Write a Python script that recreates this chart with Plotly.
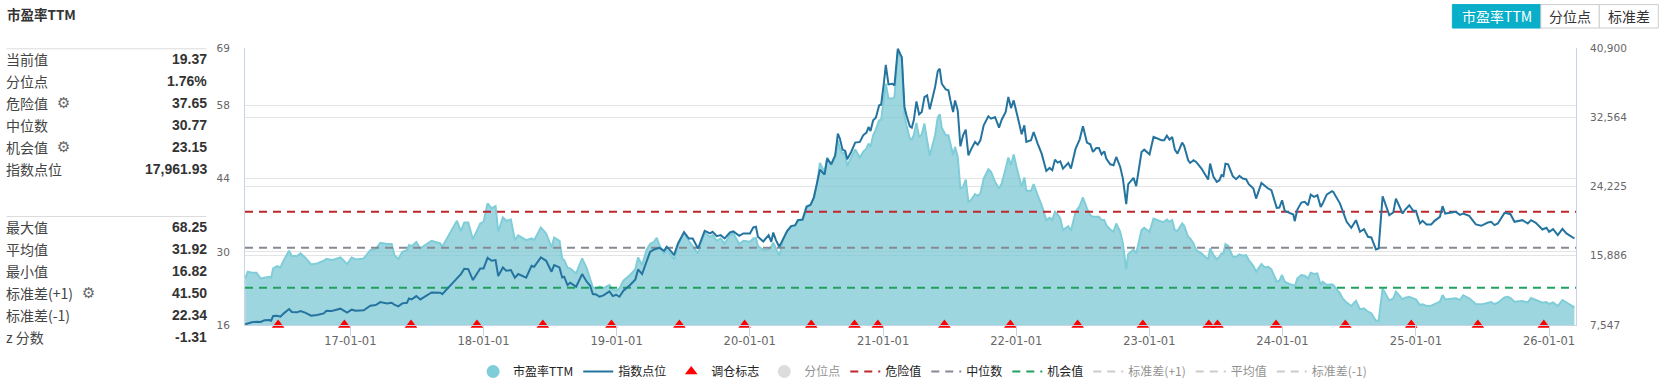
import pandas as pd
import plotly.graph_objects as go

# ---------- data ----------
years = [
2016.21,2016.23,2016.26,2016.295,2016.325,2016.355,2016.39,2016.405,2016.42,2016.45,2016.475,2016.50,2016.54,2016.56,2016.60,2016.625,2016.66,2016.705,2016.75,2016.80,2016.82,2016.86,2016.925,2016.975,
2017.01,2017.04,2017.10,2017.15,2017.19,2017.225,2017.275,2017.31,2017.33,2017.36,2017.39,2017.425,2017.44,2017.46,2017.495,2017.525,2017.56,2017.61,2017.675,2017.69,2017.80,2017.83,2017.855,2017.885,2017.92,2017.975,
2018.00,2018.03,2018.06,2018.09,2018.11,2018.145,2018.17,2018.205,2018.235,2018.26,2018.32,2018.36,2018.38,2018.43,2018.47,2018.51,2018.53,2018.57,2018.59,2018.605,2018.63,2018.65,2018.695,2018.74,2018.775,2018.80,2018.82,2018.845,2018.87,2018.90,2018.945,2018.97,2018.995,
2019.02,2019.05,2019.10,2019.14,2019.16,2019.19,2019.225,2019.25,2019.28,2019.30,2019.32,2019.355,2019.375,2019.40,2019.43,2019.46,2019.505,2019.54,2019.57,2019.61,2019.66,2019.70,2019.72,2019.75,2019.78,2019.81,2019.85,2019.875,2019.92,2019.95,
2020.00,2020.025,2020.045,2020.06,2020.10,2020.14,2020.16,2020.175,2020.195,2020.22,2020.25,2020.28,2020.31,2020.34,2020.36,2020.395,2020.425,2020.455,2020.48,2020.505,2020.525,2020.56,2020.58,2020.61,2020.64,2020.66,2020.675,2020.695,2020.715,2020.73,2020.76,2020.79,2020.825,2020.85,2020.875,2020.89,2020.905,2020.925,2020.945,2020.97,2020.985,
2021.005,2021.02,2021.04,2021.07,2021.085,2021.11,2021.14,2021.16,2021.175,2021.20,2021.215,2021.23,2021.25,2021.27,2021.29,2021.31,2021.33,2021.35,2021.39,2021.41,2021.425,2021.44,2021.47,2021.49,2021.505,2021.525,2021.54,2021.56,2021.58,2021.60,2021.62,2021.64,2021.66,2021.69,2021.71,2021.73,2021.755,2021.79,2021.81,2021.84,2021.87,2021.89,2021.92,2021.94,2021.96,2021.98,
2022.01,2022.04,2022.06,2022.075,2022.11,2022.13,2022.16,2022.19,2022.225,2022.25,2022.27,2022.29,2022.31,2022.33,2022.35,2022.39,2022.41,2022.445,2022.475,2022.50,2022.53,2022.555,2022.575,2022.60,2022.62,2022.64,2022.66,2022.675,2022.705,2022.73,2022.75,2022.78,2022.80,2022.825,2022.84,2022.88,2022.90,2022.94,2022.96,
2023.00,2023.03,2023.09,2023.11,2023.13,2023.15,2023.17,2023.19,2023.21,2023.245,2023.26,2023.29,2023.305,2023.33,2023.35,2023.39,2023.44,2023.455,2023.48,2023.505,2023.525,2023.54,2023.555,2023.57,2023.59,2023.625,2023.65,2023.675,2023.70,2023.725,2023.745,2023.78,2023.80,2023.84,2023.865,2023.89,2023.915,2023.955,2023.975,2023.995,
2024.015,2024.05,2024.08,2024.09,2024.11,2024.14,2024.165,2024.19,2024.21,2024.235,2024.26,2024.285,2024.30,2024.33,2024.37,2024.38,2024.43,2024.45,2024.48,2024.515,2024.55,2024.58,2024.61,2024.64,2024.665,2024.70,2024.72,2024.75,2024.80,2024.83,2024.85,2024.90,2024.92,2024.95,2024.98,
2025.00,2025.03,2025.05,2025.08,2025.115,2025.14,2025.18,2025.20,2025.22,2025.265,2025.30,2025.33,2025.355,2025.40,2025.45,2025.49,2025.54,2025.565,2025.59,2025.615,2025.665,2025.69,2025.71,2025.74,2025.80,2025.84,2025.865,2025.90,2025.95,2025.98,
2026.00,2026.03,2026.065,2026.10,2026.13,2026.19]

pe_ttm = [
24.92,26.19,26.0,26.0,24.92,25.11,25.24,25.05,26.83,27.27,27.02,28.42,30.2,29.19,29.19,29.7,28.93,27.59,27.78,28.29,28.68,28.42,28.93,27.66,
28.93,28.55,28.74,30.33,30.52,31.73,31.48,31.48,29.38,28.61,30.01,30.33,31.29,31.1,31.86,30.65,31.29,32.12,31.61,30.97,35.94,33.96,35.62,35.62,32.37,35.43,
35.75,39.25,38.3,38.74,33.84,36.58,35.94,36.19,32.24,33.14,32.24,32.56,32.24,34.66,33.52,30.84,32.75,32.12,28.74,28.42,26.96,26.83,25.87,28.74,26.83,24.92,23.2,23.01,23.33,23.07,23.64,22.82,22.56,
23.01,24.47,25.56,26.7,28.93,27.47,30.46,31.48,31.93,32.69,31.29,29.7,30.33,29.7,28.55,31.29,33.64,32.12,31.1,29.7,33.64,32.88,33.2,32.12,32.56,31.61,33.2,33.52,31.48,32.12,
31.93,32.56,32.63,31.1,30.33,30.46,30.97,31.73,30.65,29.19,32.37,33.96,34.92,34.92,36.07,36.07,38.74,39.0,40.52,43.07,47.02,45.3,48.04,46.58,48.17,51.35,49.76,48.81,49.12,46.45,48.04,49.57,48.04,49.12,49.76,50.72,50.08,52.31,53.39,55.18,55.3,
59.0,62.18,59.32,59.32,59.63,68.25,66.96,56.13,54.22,51.67,51.48,52.31,54.67,51.99,52.44,54.54,51.35,48.36,52.31,55.69,56.32,53.77,52.31,52.31,50.72,48.49,50.08,48.17,42.12,42.44,43.84,39.57,39.89,41.03,40.72,41.16,44.03,45.81,45.3,43.39,42.12,43.07,45.94,48.04,46.58,48.61,
45.3,42.44,44.22,41.67,41.67,42.95,40.84,38.93,36.07,36.51,36.07,37.66,37.15,36.38,34.15,34.92,34.03,37.66,38.74,40.4,38.3,37.02,36.7,36.7,36.7,36.07,36.07,35.11,34.28,33.84,35.43,33.84,31.61,26.64,29.57,30.46,29.7,34.15,34.6,
33.84,36.38,35.75,35.75,36.19,35.75,36.07,34.15,34.03,35.43,34.98,32.88,32.56,31.61,30.33,29.7,28.55,30.65,29.38,28.55,29.06,29.7,29.7,31.48,31.16,29.06,29.06,29.5,29.25,29.38,28.42,27.27,26.19,27.66,27.02,27.15,26.64,24.28,24.47,25.56,
24.28,23.84,23.64,23.33,24.92,25.56,25.43,24.92,26.0,25.75,25.87,23.64,24.28,23.64,23.77,23.64,22.05,21.1,20.27,19.63,20.65,18.99,19.19,18.55,18.23,16.82,16.82,23.01,20.65,21.1,22.37,20.9,21.22,21.41,21.1,
20.9,19.82,19.95,19.63,19.69,20.01,20.46,21.73,20.9,21.03,21.1,20.78,21.67,21.1,20.01,19.95,20.27,20.4,20.01,20.27,21.29,21.41,21.16,20.46,20.59,20.33,21.16,20.78,20.27,20.4,
20.01,20.33,19.63,20.78,20.27,19.37]

index_level = [
7630,7750,7870,7950,7910,8110,8150,8070,8630,8670,8550,8950,9470,9110,9070,9230,9030,8670,8750,8950,9270,9230,9510,9030,
9390,9270,9310,9870,9950,10310,10150,10230,9990,9790,10150,10230,10750,10630,11030,10630,10950,11470,11430,11270,13160,13680,14320,14280,12960,14360,
14360,15640,15280,15360,13440,14480,14080,14160,13240,13680,13240,14680,14560,15680,15280,13960,14760,14480,13280,13360,12360,12640,12160,13680,12760,12280,11270,11230,10950,11110,11590,11030,11190,
10950,11670,12360,13040,14240,13680,15360,16360,16640,16720,16840,16480,16960,16560,15960,17360,18730,17970,17970,16760,18890,18570,18770,18250,18370,17970,18690,18810,18290,18570,
18570,19290,19370,18170,17600,18370,17560,18690,17760,16960,17970,18890,19450,19570,20170,20250,21770,22010,22890,24580,26260,25660,27580,26900,27980,30590,29990,28660,28500,27500,28380,29510,29590,30390,30710,31390,30910,32190,32510,33990,34070,
36600,38880,36520,36600,36400,40805,39800,33790,32790,31470,31310,32190,34470,32910,33190,34995,35195,33510,36200,38120,38400,36600,35920,35800,34590,33190,34590,33390,29060,30390,31070,27980,28700,29590,29260,29790,31590,32670,32390,32590,31310,32270,33190,34995,33670,34590,
32590,30510,31590,29590,29790,30790,29390,28180,26100,26460,26180,27460,27100,27260,26380,27060,26380,28780,29870,31470,29510,29310,28380,28860,28860,28100,28460,27580,26900,26780,27780,26580,25180,22090,24500,25260,24260,28380,28660,
28100,30190,29790,29790,30350,29870,30190,28660,28180,29510,29110,27380,27060,27380,27180,26380,25060,26980,25380,24780,24980,25580,25460,26980,26900,25460,25100,25500,25180,25100,24500,23980,22770,24660,24260,23980,23780,21650,21690,22570,
21290,21050,20850,20050,21450,22290,22370,21970,23250,22970,23170,21770,22170,23250,23650,23570,22170,21290,19970,19250,20170,18770,19090,18170,18090,16640,16760,23050,20770,21090,22770,20970,21450,21970,21290,
21290,19770,20090,19650,19650,20090,20570,21850,20970,21090,21170,20810,20970,20690,19650,19490,19890,19970,19570,19770,21050,20970,20890,19970,20170,19770,20170,19850,19050,19250,
18770,19090,18370,19130,18570,17962]

rebalance_years = [2016.4575,2016.955,2017.455,2017.95,2018.445,2018.96,2019.47,2019.96,2020.46,2020.785,2020.96,
                   2021.46,2021.955,2022.46,2022.95,2023.445,2023.51,2023.95,2024.47,2024.965,2025.465,2025.96]

danger_value = 37.65
median_value = 30.77
chance_value = 23.15
std_plus = 41.50
mean_value = 31.92
std_minus = 22.34

left_ticks = [16, 30, 44, 58, 69]
right_ticks = [7547, 15886, 24225, 32564, 40900]
right_labels = ["7,547", "15,886", "24,225", "32,564", "40,900"]
x_ticks = ["2017-01-01","2018-01-01","2019-01-01","2020-01-01","2021-01-01","2022-01-01","2023-01-01","2024-01-01","2025-01-01","2026-01-01"]

table_top = [("当前值","19.37"),("分位点","1.76%"),("危险值","37.65"),("中位数","30.77"),("机会值","23.15"),("指数点位","17,961.93")]
table_bottom = [("最大值","68.25"),("平均值","31.92"),("最小值","16.82"),("标准差(+1)","41.50"),("标准差(-1)","22.34"),("z 分数","-1.31")]
# ---------------------------------------------------

assert len(years) == len(pe_ttm) == len(index_level)

def to_date(y):
    return pd.Timestamp("2017-01-01") + pd.Timedelta(days=(y - 2017) * 365.25)

dates = [to_date(y) for y in years]
rebalance_dates = [to_date(y) for y in rebalance_years]
x_start, x_end = pd.Timestamp("2016-03-18"), pd.Timestamp("2026-03-16")
ends = [x_start, x_end]

W, H = 1661, 387
L, R, T, B = 244.6, 1576.2, 47.5, 325.0
px = lambda x: (x - L) / (R - L)
py = lambda y: (B - y) / (B - T)

CJK = "Noto Sans CJK SC"
NUM = "Liberation Sans"
AX = "DejaVu Sans"
AREA = "#7fcdd8"
IDX = "#24749f"
GRID = "#e4e4e4"
AXIS = "#c6d4e6"

fig = go.Figure()
fig.add_trace(go.Scatter(x=[None], y=[None], mode="markers", name="市盈率TTM", legendgroup="pe",
                         marker=dict(symbol="circle", size=13, color=AREA)))
fig.add_trace(go.Scatter(x=dates, y=pe_ttm, mode="lines", name="市盈率TTM", legendgroup="pe", showlegend=False,
                         line=dict(color=AREA, width=2), fill="tozeroy", fillcolor="rgba(120,198,212,0.72)"))
fig.add_trace(go.Scatter(x=dates, y=index_level, mode="lines", name="指数点位", yaxis="y2",
                         line=dict(color=IDX, width=2)))
fig.add_trace(go.Scatter(x=rebalance_dates, y=[16] * len(rebalance_dates), mode="markers", name="调仓标志",
                         marker=dict(symbol="triangle-up", size=11, color="#ff0000"), cliponaxis=False))
fig.add_trace(go.Scatter(x=[None], y=[None], mode="markers", name="分位点", visible="legendonly",
                         marker=dict(symbol="circle", size=13, color="#bbbbbb")))
def hline(name, value, color, visible=True):
    fig.add_trace(go.Scatter(x=ends, y=[value, value], mode="lines", name=name, visible=visible,
                             line=dict(color=color, width=2, dash="8px,6px")))
hline("危险值", danger_value, "#c0272d")
hline("中位数", median_value, "#858a94")
hline("机会值", chance_value, "#22a05f")
hline("标准差(+1)", std_plus, "#999999", "legendonly")
hline("平均值", mean_value, "#999999", "legendonly")
hline("标准差(-1)", std_minus, "#999999", "legendonly")

ann, shp = [], []
def text(x, y, s, size=14, color="#333333", family=CJK, anchor="left", bold=False):
    ann.append(dict(xref="paper", yref="paper", x=px(x), y=py(y), text=f"<b>{s}</b>" if bold else s, showarrow=False,
                    xanchor=anchor, yanchor="middle", font=dict(size=size, color=color, family=family)))
def line(x0, x1, y, color="#dcdcdc", w=1):
    shp.append(dict(type="line", xref="paper", yref="paper", x0=px(x0), x1=px(x1), y0=py(y), y1=py(y),
                    line=dict(color=color, width=w)))
def box(x0, x1, y0, y1, fill, border):
    shp.append(dict(type="rect", xref="paper", yref="paper", x0=px(x0), x1=px(x1), y0=py(y0), y1=py(y1),
                    fillcolor=fill, line=dict(color=border, width=1)))

text(4, 13.5, "市盈率TTM", size=13.5, bold=True)
line(6, 206, 48.3)
line(6, 206, 216.3)
for i, (label, val) in enumerate(table_top):
    y = 58.5 + i * 22
    text(3.5, y, label, color="#444444")
    text(209, y, val, family=NUM, anchor="right", bold=True)
for i, (label, val) in enumerate(table_bottom):
    y = 227 + i * 22
    text(3.5, y, label, color="#444444")
    text(209, y, val, family=NUM, anchor="right", bold=True)
for gx, gy in [(63, 102.5), (63, 146.5), (88, 293)]:
    text(gx, gy, "⚙", size=15, color="#666666", family="DejaVu Sans", anchor="center")

box(1452.5, 1541, 4, 27.5, "#09aec8", "#09aec8")
box(1541, 1599.5, 4, 27.5, "#ffffff", "#cccccc")
box(1599.5, 1658.5, 4, 27.5, "#ffffff", "#cccccc")
text(1496.7, 15, "市盈率TTM", color="#ffffff", anchor="center")
text(1570.2, 15, "分位点", color="#333333", anchor="center")
text(1629, 15, "标准差", color="#333333", anchor="center")

fig.update_layout(
    width=W, height=H, margin=dict(l=L, r=W - R, t=T, b=H - B, autoexpand=False),
    paper_bgcolor="#ffffff", plot_bgcolor="#ffffff", annotations=ann, shapes=shp,
    xaxis=dict(type="date", range=[x_start, x_end], tickvals=x_ticks, tickformat="%y-%m-%d",
               ticks="outside", ticklen=10, tickcolor=AXIS, showgrid=False, showline=True, linecolor=AXIS, linewidth=1,
               zeroline=False, ticklabelstandoff=-5, tickfont=dict(family=AX, size=11.5, color="#666666")),
    yaxis=dict(range=[16, 69], tickvals=left_ticks, showgrid=True, gridcolor=GRID, gridwidth=1, zeroline=False,
               showline=True, linecolor=AXIS, linewidth=1, ticks="", ticklabelstandoff=12,
               tickfont=dict(family=AX, size=10.5, color="#666666")),
    yaxis2=dict(range=[7547, 40900], overlaying="y", side="right", tickvals=right_ticks, ticktext=right_labels,
                showgrid=True, gridcolor=GRID, gridwidth=1, zeroline=False, showline=True, linecolor=AXIS, linewidth=1,
                ticks="", ticklabelstandoff=11, tickfont=dict(family=AX, size=10.5, color="#666666")),
    legend=dict(orientation="h", xref="container", yref="container", x=922.6 / W, xanchor="center",
                y=1 - 371.5 / H, yanchor="middle",
                font=dict(family=CJK, size=12, color="#222222"), itemwidth=30, bgcolor="rgba(0,0,0,0)"),
    showlegend=True,
)
fig.write_html("out.html", config=dict(displayModeBar=False),
               post_script="document.body.style.margin='0';document.body.style.overflow='hidden';")
